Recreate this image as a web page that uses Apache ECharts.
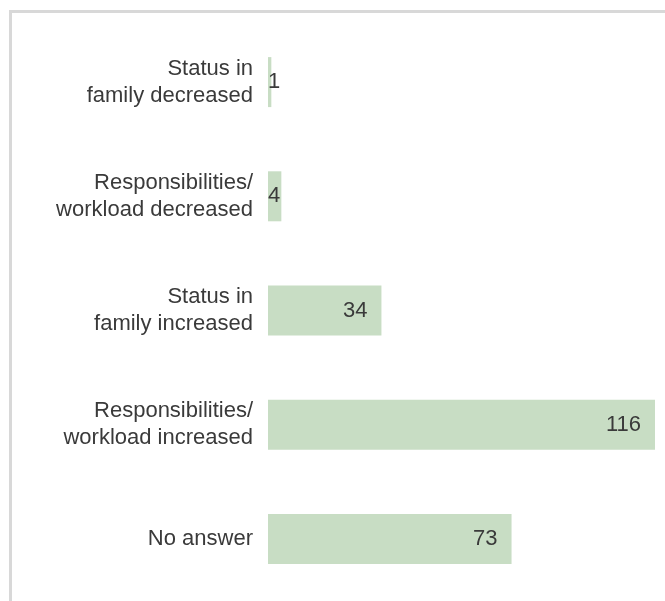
<!DOCTYPE html>
<html>
<head>
<meta charset="utf-8">
<script src="https://cdn.jsdelivr.net/npm/echarts@6/dist/echarts.min.js"></script>
<style>
html,body{margin:0;padding:0;background:#fff;}
#chart{width:665px;height:601px;}
</style>
</head>
<body>
<div id="chart"></div>
<script>
const categories = [
  "Status in\nfamily decreased",
  "Responsibilities/\nworkload decreased",
  "Status in\nfamily increased",
  "Responsibilities/\nworkload increased",
  "No answer"
];
const values = [1, 4, 34, 116, 73];
const smallThreshold = 10;

const chart = echarts.init(document.getElementById('chart'));
const textStyleBase = { fontFamily: 'Liberation Sans, Arial, sans-serif', fontSize: 22, color: '#3a3a3a' };

chart.setOption({
  animation: false,
  graphic: [{
    type: 'rect',
    shape: { x: 10.5, y: 11.5, width: 800, height: 800 },
    style: { fill: 'none', stroke: '#d8d8d8', lineWidth: 3 },
    silent: true
  }],
  grid: { left: 268, right: 10, top: 25, bottom: 5, containLabel: false },
  xAxis: {
    type: 'value', min: 0, max: 116,
    show: false
  },
  yAxis: {
    type: 'category', inverse: true, data: categories,
    axisLine: { show: false }, axisTick: { show: false },
    axisLabel: Object.assign({ margin: 15, align: 'right', lineHeight: 27, padding: [4, 0, 0, 0] }, textStyleBase)
  },
  series: [{
    type: 'bar',
    barWidth: 50,
    itemStyle: { color: '#c8ddc4' },
    data: values.map(v => ({
      value: v,
      label: v < smallThreshold
        ? { position: 'insideLeft', distance: 0 }
        : { position: 'insideRight', distance: 14 }
    })),
    label: Object.assign({ show: true }, textStyleBase)
  }]
});
</script>
</body>
</html>
